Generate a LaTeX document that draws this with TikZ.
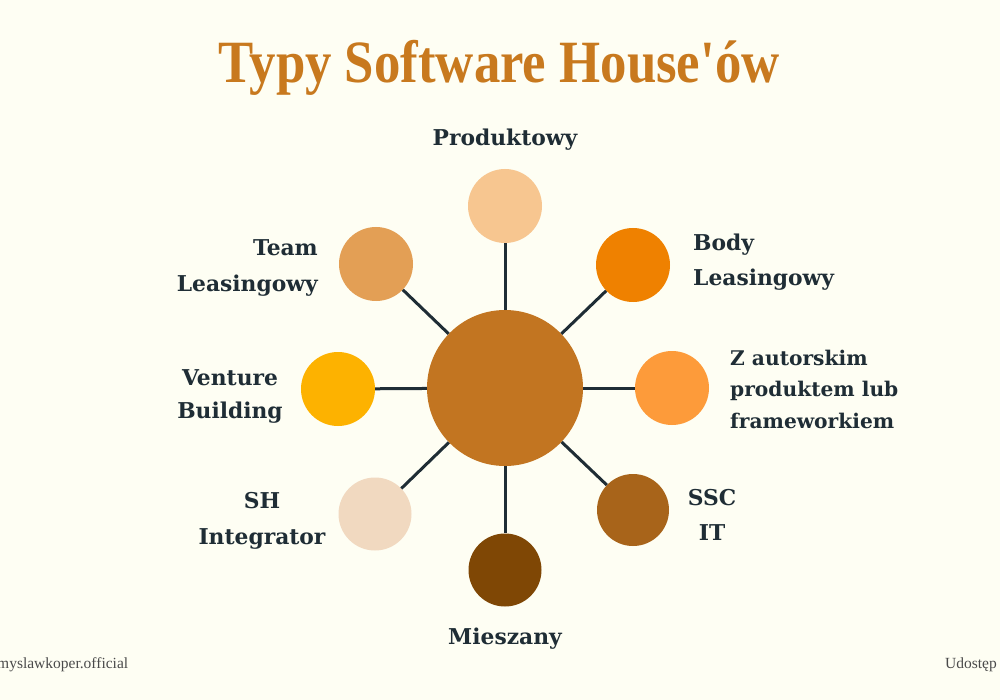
\documentclass[tikz,border=0pt]{standalone}
\usepackage{fontspec}
\setmainfont{DejaVu Serif}
\newfontfamily\titlefont{Liberation Serif}
\newfontfamily\footfont{Liberation Serif}
\definecolor{bg}{HTML}{FEFEF3}
\definecolor{ink}{HTML}{1F2D35}
\definecolor{titlec}{HTML}{C8791E}
\definecolor{cCenter}{HTML}{C27521}
\definecolor{cProd}{HTML}{F7C690}
\definecolor{cBody}{HTML}{EF8100}
\definecolor{cZaut}{HTML}{FD9B3A}
\definecolor{cSSC}{HTML}{A8641A}
\definecolor{cMiesz}{HTML}{7F4705}
\definecolor{cSH}{HTML}{F1D9C0}
\definecolor{cVent}{HTML}{FDB200}
\definecolor{cTeam}{HTML}{E39F55}
\definecolor{footc}{HTML}{4A4A4A}
\begin{document}
\begin{tikzpicture}[x=1pt,y=-1pt,
  blob/.style={circle,draw=none,inner sep=0pt,minimum size=#1},
  lbl/.style={font=\bfseries\fontsize{21.8}{35.5}\selectfont,text=ink,inner sep=0pt},
  link/.style={draw=ink,line width=3pt}]
\useasboundingbox (0,0) rectangle (1000,700);
\fill[bg] (0,0) rectangle (1000,700);
% title
\node[anchor=base,text=titlec,inner sep=0pt,font=\titlefont\bfseries\fontsize{60}{60}\selectfont] (title) at (499,83) {\scalebox{0.88}[1]{Typy Software House\textquotesingle ów}};
% circles
\node[blob=156pt,fill=cCenter] (c) at (505,388) {};
\node[blob=74pt,fill=cProd] (prod) at (505,206) {};
\node[blob=74pt,fill=cBody] (body) at (633,265) {};
\node[blob=74pt,fill=cZaut] (zaut) at (672,388) {};
\node[blob=72pt,fill=cSSC] (ssc) at (633,510) {};
\node[blob=73pt,fill=cMiesz] (miesz) at (505,570) {};
\node[blob=73pt,fill=cSH] (sh) at (375,514) {};
\node[blob=74pt,fill=cVent] (vent) at (338,389) {};
\node[blob=74pt,fill=cTeam] (team) at (376,264) {};
% connectors
\foreach \t in {prod,body,zaut,ssc,miesz,sh,vent,team}
  \draw[link] (c) -- (\t);
% labels
\node[lbl,anchor=center] (lprod) at (505,140) {Produktowy};
\node[lbl,anchor=west,align=left] (lbody) at (693,262) {Body\\Leasingowy};
\node[lbl,anchor=west,align=left,font=\bfseries\fontsize{20.2}{31.5}\selectfont] (lzaut) at (730,389) {Z autorskim\\produktem lub\\frameworkiem};
\node[lbl,anchor=center,align=center] (lssc) at (712,515) {SSC\\IT};
\node[lbl,anchor=center] (lmiesz) at (505,639) {Mieszany};
\node[lbl,anchor=center,align=center] (lsh) at (262,521) {SH\\Integrator};
\node[lbl,anchor=center,align=center,font=\bfseries\fontsize{21.8}{33}\selectfont] (lvent) at (230,396) {Venture\\Building};
\node[lbl,anchor=east,align=right] (lteam) at (318,268) {Team\\Leasingowy};
% footer
\node[anchor=base west,inner sep=0pt,text=footc,font=\footfont\fontsize{15.5}{15.5}\selectfont] (fl) at (-3,668) {myslawkoper.official};
\node[anchor=base west,inner sep=0pt,text=footc,font=\footfont\fontsize{15.5}{15.5}\selectfont] (fr) at (945,668) {Udostęp};
\end{tikzpicture}
\end{document}
